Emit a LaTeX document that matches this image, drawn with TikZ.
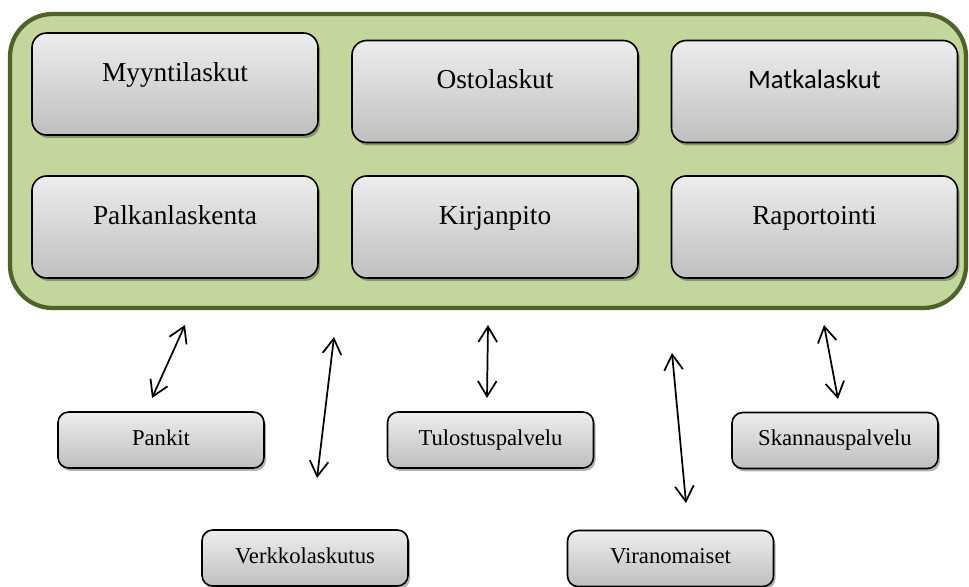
\documentclass[tikz,border=0pt]{standalone}
\usepackage{fontspec}
\setmainfont{Liberation Serif}
\newfontfamily\calfont{Carlito}
\usepackage{tikz}
\usetikzlibrary{arrows.meta,shadows}
\definecolor{olivefill}{HTML}{C3D69B}
\definecolor{oliveline}{HTML}{4F6228}
\definecolor{boxtop}{HTML}{EDEDED}
\definecolor{boxbot}{HTML}{BFBFBF}

\tikzset{
  panel/.style={draw=oliveline,line width=3.2pt,fill=olivefill,rounded corners=32pt},
  tile/.style={draw=black,line width=1.2pt,top color=boxtop,bottom color=boxbot,
    drop shadow={shadow xshift=1.5pt,shadow yshift=-2.2pt,opacity=.3,fill=black},
    inner sep=0pt,outer sep=0pt,anchor=center},
  bigbox/.style={tile,rounded corners=11pt,minimum width=214.5pt,
    text height=36pt,text depth=40.5pt,font=\fontsize{20.5}{24}\selectfont},
  smallbox/.style={tile,rounded corners=8pt,minimum width=154.5pt,
    text height=24.75pt,text depth=17.25pt,font=\fontsize{17}{20}\selectfont},
  link/.style={{Straight Barb[length=11.5pt,width=14pt]}-{Straight Barb[length=11.5pt,width=14pt]},
    line width=1.3pt}
}

\begin{document}
\begin{tikzpicture}[x=0.75pt,y=-0.75pt]
  \useasboundingbox (0,0) rectangle (969,586);
  % green frame
  \draw[panel] (10,14) rectangle (966,308);
  % modules inside
  \node[bigbox] (myynti) at (175,84) {Myyntilaskut};
  \node[bigbox] (osto) at (495,91.5) {Ostolaskut};
  \node[bigbox,font={\calfont\fontsize{20}{24}\selectfont}] (matka) at (814.5,91.5) {Matkalaskut};
  \node[bigbox] (palkka) at (175,227) {Palkanlaskenta};
  \node[bigbox] (kirjanpito) at (495,227) {Kirjanpito};
  \node[bigbox] (raportti) at (814.5,227) {Raportointi};
  % outside services
  \node[smallbox] (pankit) at (161,440) {Pankit};
  \node[smallbox] (tulostus) at (490.5,440) {Tulostuspalvelu};
  \node[smallbox] (skannaus) at (835,440.5) {Skannauspalvelu};
  \node[smallbox] (verkko) at (305,558) {Verkkolaskutus};
  \node[smallbox] (viranom) at (670.5,558.5) {Viranomaiset};
  % arrow ends
  \coordinate (pankitA) at (185,325);
  \coordinate (pankitB) at (152,398);
  \coordinate (verkkoA) at (334,337);
  \coordinate (verkkoB) at (317,478);
  \coordinate (tulostusA) at (488,325);
  \coordinate (tulostusB) at (487,398);
  \coordinate (viranomA) at (672,353);
  \coordinate (viranomB) at (686,503);
  \coordinate (skannausA) at (824,325);
  \coordinate (skannausB) at (838,399);
  \foreach \n in {pankit,verkko,tulostus,viranom,skannaus}
    \draw[link] (\n A) -- (\n B);
\end{tikzpicture}
\end{document}
